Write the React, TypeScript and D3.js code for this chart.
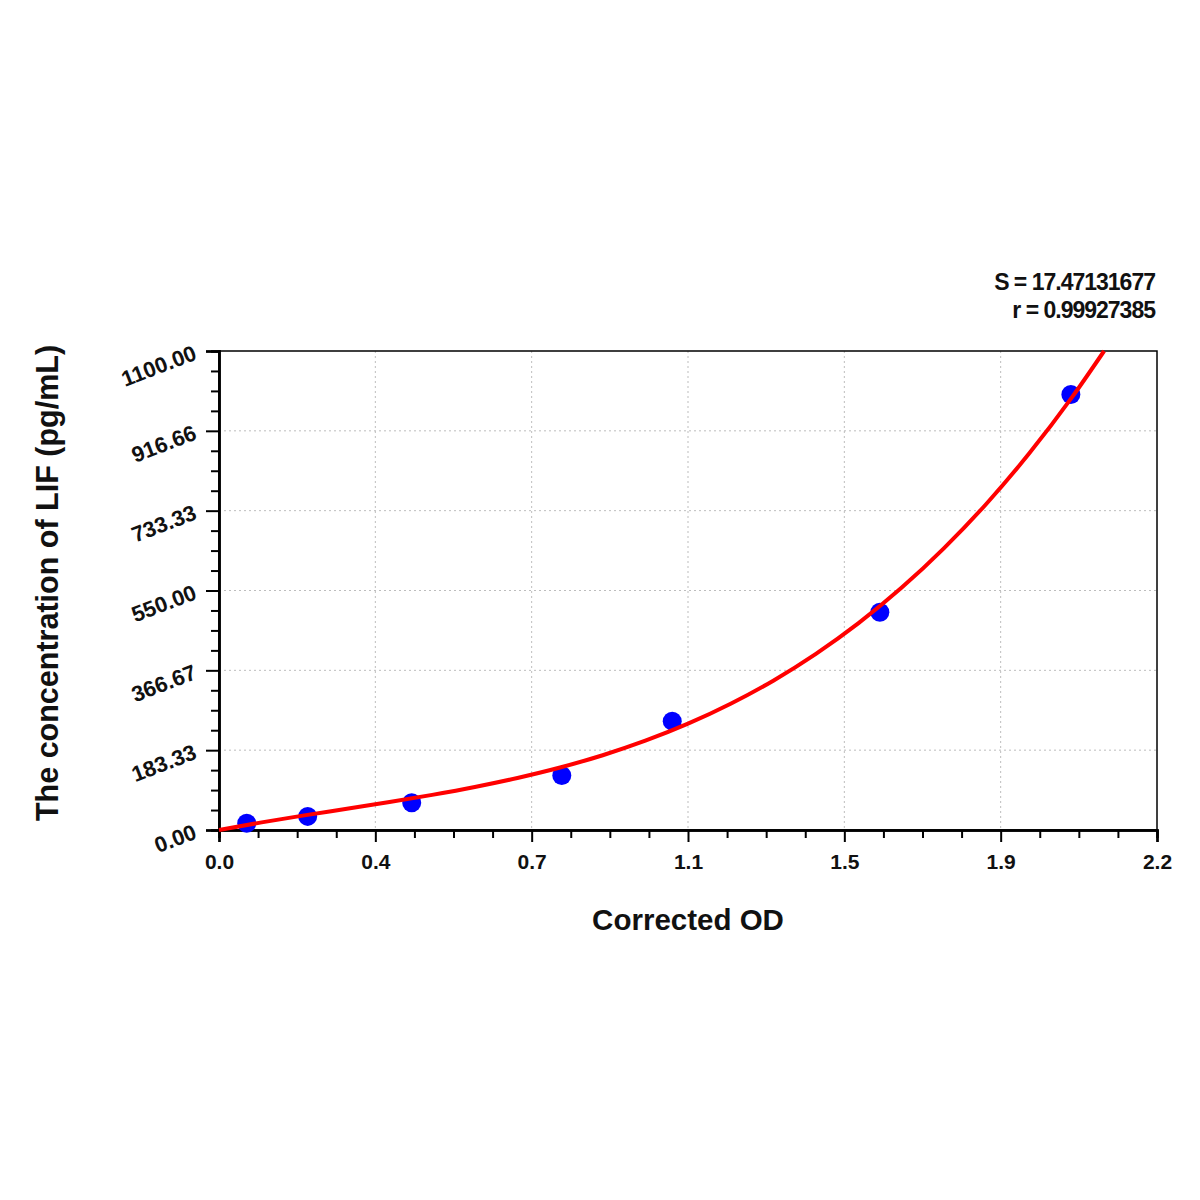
import React, { useEffect, useRef } from 'react';
import * as d3 from 'd3';

// standard points (corrected OD -> concentration)
const odValues = [0.065, 0.208, 0.452, 0.804, 1.063, 1.55, 1.998];
const concValues = [15.6, 31.25, 62.5, 125, 250, 500, 1000];

// fitted curve
const curveOd = [0, 0.1, 0.2, 0.3, 0.4, 0.5, 0.6, 0.7, 0.8, 0.9, 1.0, 1.1, 1.2, 1.3, 1.4, 1.5, 1.6, 1.7, 1.8, 1.9, 2.0, 2.076];
const curveConc = [0, 17.5, 33.6, 48.9, 64.3, 80.7, 98.8, 119.5, 143.5, 171.7, 205.0, 244.1, 289.9, 342.9, 404.5, 475.0, 555.5, 646.8, 749.3, 864.5, 992.8, 1100];

const xTickValues = [0, 2.2 / 6, 4.4 / 6, 1.1, 8.8 / 6, 11 / 6, 2.2];
const xTickLabels = ['0.0', '0.4', '0.7', '1.1', '1.5', '1.9', '2.2'];
const yTickValues = [0, 1100 / 6, 2200 / 6, 550, 4400 / 6, 5500 / 6, 1100];
const yTickLabels = ['0.00', '183.33', '366.67', '550.00', '733.33', '916.66', '1100.00'];

const statLines = ['S = 17.47131677', 'r = 0.99927385'];

export default function App() {
  const ref = useRef<SVGSVGElement>(null);

  useEffect(() => {
    if (!ref.current) return;
    const svg = d3.select(ref.current);
    svg.selectAll('*').remove();

    const left = 219, right = 1157, top = 351, bottom = 830;
    const font = 'Liberation Sans, Arial, sans-serif';

    const x = d3.scaleLinear().domain([0, 2.2]).range([left, right]);
    const y = d3.scaleLinear().domain([0, 1100]).range([bottom, top]);

    // grid
    const grid = svg.append('g').attr('stroke', '#bdbdbd').attr('stroke-width', 1).attr('stroke-dasharray', '2,3');
    xTickValues.slice(1, -1).forEach(v => {
      grid.append('line').attr('x1', x(v)).attr('x2', x(v)).attr('y1', top).attr('y2', bottom);
    });
    yTickValues.slice(1, -1).forEach(v => {
      grid.append('line').attr('x1', left).attr('x2', right).attr('y1', y(v)).attr('y2', y(v));
    });

    // frame
    svg.append('rect')
      .attr('x', left).attr('y', top)
      .attr('width', right - left).attr('height', bottom - top)
      .attr('fill', 'none').attr('stroke', '#000').attr('stroke-width', 1.5);

    // minor ticks
    const xMinor: number[] = [];
    const yMinor: number[] = [];
    for (let i = 0; i < 6; i++) {
      for (let j = 1; j < 4; j++) {
        xMinor.push(xTickValues[i] + (xTickValues[i + 1] - xTickValues[i]) * j / 4);
        yMinor.push(yTickValues[i] + (yTickValues[i + 1] - yTickValues[i]) * j / 4);
      }
    }

    const xAxis = svg.append('g').attr('transform', `translate(0,${bottom})`);
    xAxis.call(d3.axisBottom(x).tickValues(xTickValues).tickSize(12).tickFormat((_, i) => xTickLabels[i]));
    xAxis.append('g').call(d3.axisBottom(x).tickValues(xMinor).tickSize(8).tickFormat(() => ''));
    xAxis.selectAll('.domain').attr('stroke-width', 2.5);
    xAxis.selectAll('line').attr('stroke-width', 2);
    xAxis.selectAll('text')
      .attr('font-family', font).attr('font-size', 21).attr('font-weight', 'bold')
      .attr('fill', '#111').attr('dy', '1.15em');

    const yAxis = svg.append('g').attr('transform', `translate(${left},0)`);
    yAxis.call(d3.axisLeft(y).tickValues(yTickValues).tickSize(13).tickFormat(() => ''));
    yAxis.append('g').call(d3.axisLeft(y).tickValues(yMinor).tickSize(8).tickFormat(() => ''));
    yAxis.selectAll('.domain').attr('stroke-width', 2.5);
    yAxis.selectAll('line').attr('stroke-width', 2);

    // rotated y labels
    svg.append('g').selectAll('text')
      .data(yTickValues)
      .join('text')
      .attr('transform', d => `translate(${left - 21},${y(d) + 8}) rotate(-21)`)
      .attr('text-anchor', 'end')
      .attr('font-family', font).attr('font-size', 22).attr('font-weight', 'bold')
      .attr('fill', '#111')
      .text((_, i) => yTickLabels[i]);

    // points
    svg.append('g').selectAll('circle')
      .data(odValues)
      .join('circle')
      .attr('cx', d => x(d))
      .attr('cy', (_, i) => y(concValues[i]))
      .attr('r', 9.5)
      .attr('fill', '#0000ff');

    // fitted curve
    const line = d3.line<number>()
      .x(d => x(d))
      .y((_, i) => y(curveConc[i]))
      .curve(d3.curveMonotoneX);
    svg.append('path')
      .datum(curveOd)
      .attr('fill', 'none')
      .attr('stroke', '#ff0000')
      .attr('stroke-width', 4)
      .attr('d', line);

    // axis titles
    svg.append('text')
      .attr('x', 688).attr('y', 930)
      .attr('text-anchor', 'middle')
      .attr('font-family', font).attr('font-size', 29.5).attr('font-weight', 'bold')
      .attr('fill', '#111')
      .text('Corrected OD');

    svg.append('text')
      .attr('transform', `translate(58,583) rotate(-90)`)
      .attr('text-anchor', 'middle')
      .attr('font-family', font).attr('font-size', 30.5).attr('font-weight', 'bold')
      .attr('fill', '#111')
      .text('The concentration of LIF (pg/mL)');

    // stats
    svg.append('g').selectAll('text')
      .data(statLines)
      .join('text')
      .attr('x', right - 2)
      .attr('y', (_, i) => 290 + i * 28)
      .attr('text-anchor', 'end')
      .attr('font-family', font).attr('font-size', 23).attr('font-weight', 'bold')
      .attr('letter-spacing', -1)
      .attr('fill', '#111')
      .text(d => d);
  }, []);

  return (
    <svg
      ref={ref}
      width={1200}
      height={1200}
      style={{ position: 'absolute', left: 0, top: 0, background: '#fff' }}
    />
  );
}
